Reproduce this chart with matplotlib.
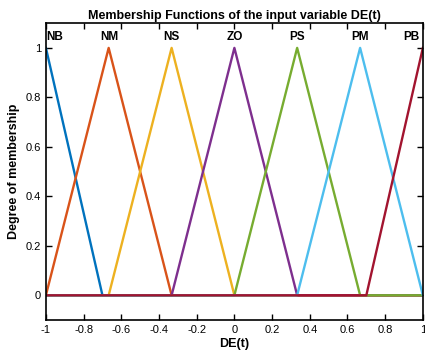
import numpy as np
import matplotlib.pyplot as plt

plt.rcParams['font.family'] = ['Liberation Sans', 'DejaVu Sans']

# triangular membership functions [a, b, c]
nombres = ['NB', 'NM', 'NS', 'ZO', 'PS', 'PM', 'PB']
params = [[-1.3, -1.0, -0.7],
          [-1.0, -0.667, -0.333],
          [-0.667, -0.333, 0.0],
          [-0.333, 0.0, 0.333],
          [0.0, 0.333, 0.667],
          [0.333, 0.667, 1.0],
          [0.7, 1.0, 1.3]]
etiqueta_x = [-0.955, -0.665, -0.333, 0.0, 0.333, 0.667, 0.94]
colores = ['#0072BD', '#D95319', '#EDB120', '#7E2F8E', '#77AC30', '#4DBEEE', '#A2142F']

def trimf(x, p):
    a, b, c = p
    return np.maximum(np.minimum((x - a) / (b - a), (c - x) / (c - b)), 0)

x = np.linspace(-1, 1, 2001)

fig = plt.figure(figsize=(4.25, 3.56), dpi=100)
ax = fig.add_axes([0.108, 0.101, 0.887, 0.834])

for p, col in zip(params, colores):
    ax.plot(x, trimf(x, p), color=col, linewidth=1.7)

for nom, xl in zip(nombres, etiqueta_x):
    ax.text(xl, 1.045, nom, ha='center', va='center', fontsize=8.5, fontweight='bold')

ax.set_xlim(-1, 1)
ax.set_ylim(-0.1, 1.1)
ax.set_xticks(np.arange(-1, 1.01, 0.2))
ax.set_xticklabels(['-1', '-0.8', '-0.6', '-0.4', '-0.2', '0', '0.2', '0.4', '0.6', '0.8', '1'])
ax.set_yticks(np.arange(0, 1.01, 0.2))
ax.set_yticklabels(['0', '0.2', '0.4', '0.6', '0.8', '1'])
ax.tick_params(direction='in', top=True, right=True, labelsize=8, length=4, width=1)
for s in ax.spines.values():
    s.set_linewidth(1.2)

ax.set_title('Membership Functions of the input variable DE(t)', fontsize=9, fontweight='bold', pad=3)
ax.set_xlabel('DE(t)', fontsize=9, fontweight='bold', labelpad=2)
ax.set_ylabel('Degree of membership', fontsize=9, fontweight='bold', labelpad=4)

fig.savefig('out.png', dpi=100)
